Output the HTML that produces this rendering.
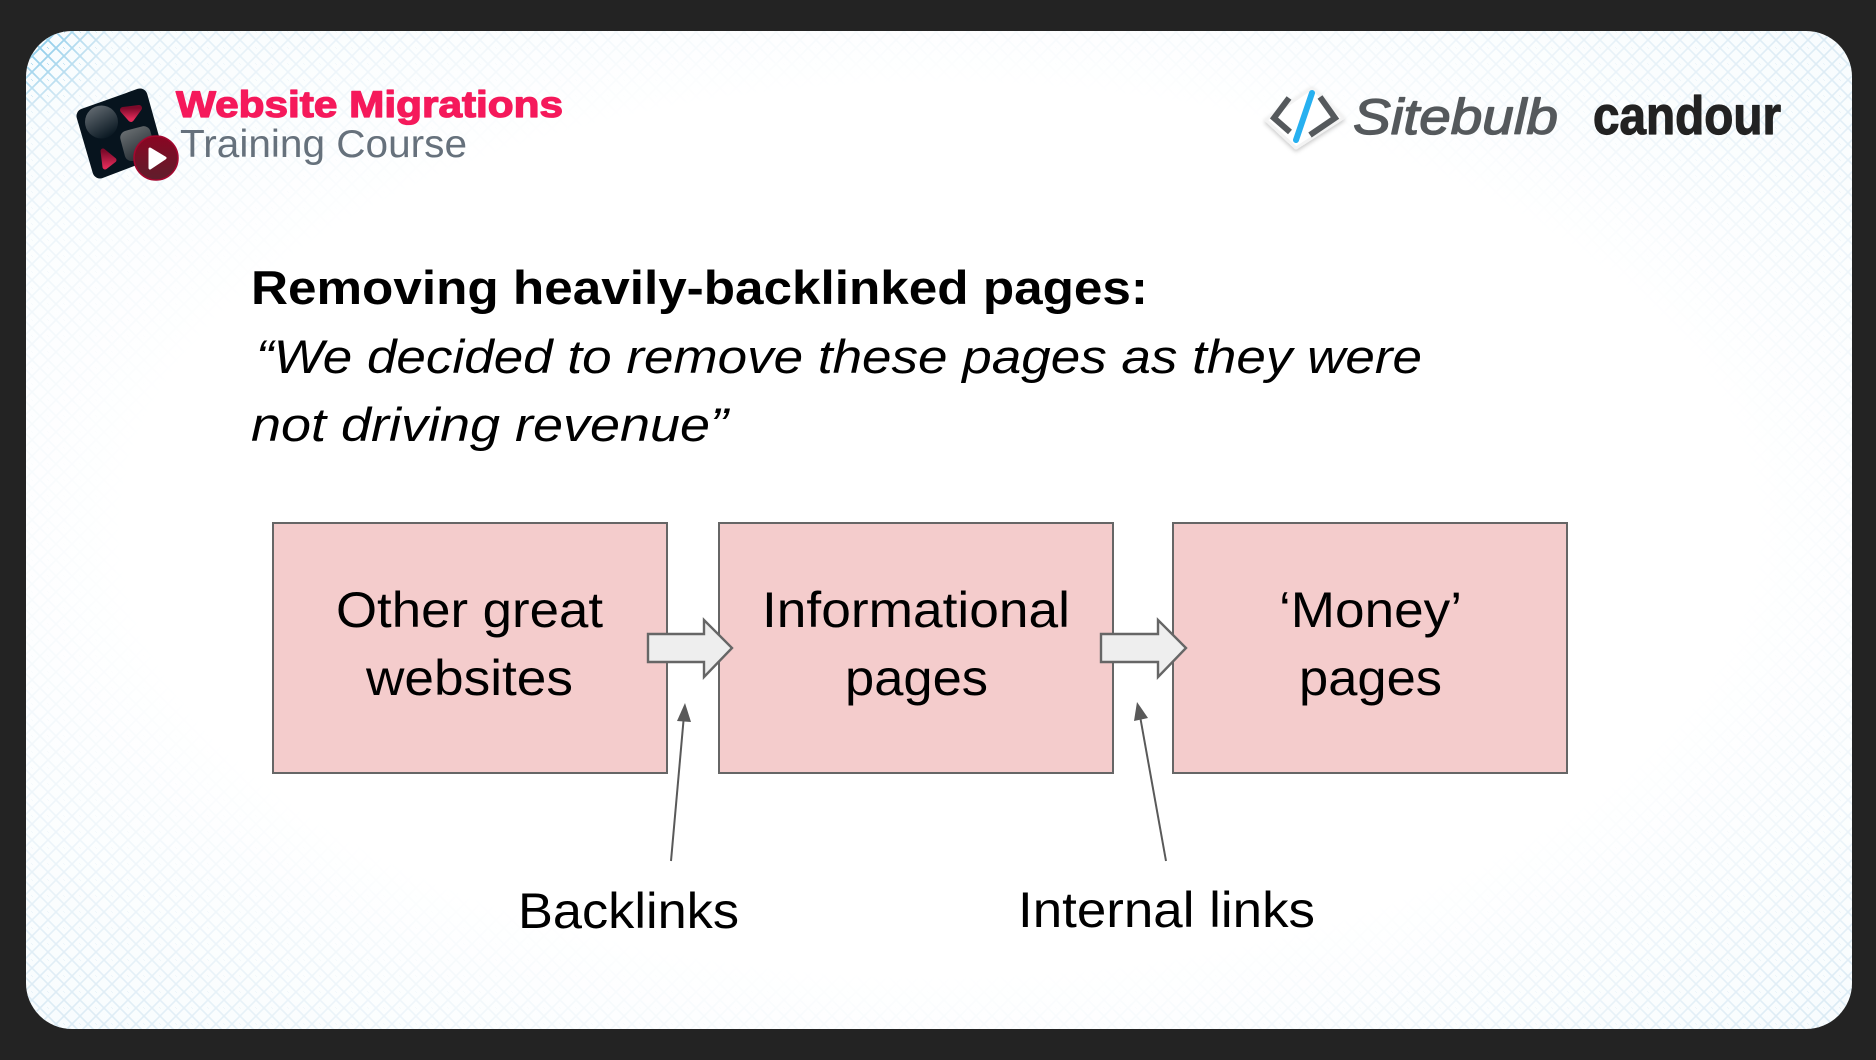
<!DOCTYPE html>
<html lang="en"><head><meta charset="utf-8"><title>Removing heavily-backlinked pages</title>
<style>
html,body{margin:0;padding:0;background:#232323;width:1876px;height:1060px;overflow:hidden}
svg{display:block}
text{font-family:"Liberation Sans",sans-serif}
</style></head>
<body>
<svg xmlns="http://www.w3.org/2000/svg" width="1876" height="1060" viewBox="0 0 1876 1060">
<defs>
<pattern id="hatch" width="16" height="16" patternUnits="userSpaceOnUse">
<path d="M-4 4L4 -4M-4 12L12 -4M4 20L20 4M12 20L20 12" stroke="#d6e8f3" stroke-width="1.6" fill="none"/>
<path d="M-4 4L12 20M4 -4L20 12" stroke="#d6e8f3" stroke-width="1.6" fill="none"/>
</pattern>
<pattern id="hatchBlue" width="16" height="16" patternUnits="userSpaceOnUse">
<path d="M-4 4L4 -4M-4 12L12 -4M4 20L20 4M12 20L20 12" stroke="#8fcdea" stroke-width="1.8" fill="none"/>
<path d="M-4 4L12 20M4 -4L20 12" stroke="#8fcdea" stroke-width="1.8" fill="none"/>
</pattern>
<radialGradient id="veil" cx="0.5" cy="0.5" r="0.72">
<stop offset="0" stop-color="#fff" stop-opacity="1"/>
<stop offset="0.62" stop-color="#fff" stop-opacity="1"/>
<stop offset="0.8" stop-color="#fff" stop-opacity="0.55"/>
<stop offset="1" stop-color="#fff" stop-opacity="0"/>
</radialGradient>
<radialGradient id="cornerFade" gradientUnits="userSpaceOnUse" cx="26" cy="31" r="85">
<stop offset="0.25" stop-color="#fff" stop-opacity="1"/>
<stop offset="1" stop-color="#fff" stop-opacity="0"/>
</radialGradient>
<mask id="cornerMask"><rect x="26" y="31" width="100" height="100" fill="url(#cornerFade)"/></mask>
<linearGradient id="greyA" x1="0" y1="0" x2="0.6" y2="1"><stop offset="0" stop-color="#6d747a"/><stop offset="1" stop-color="#0c1a24"/></linearGradient>
<linearGradient id="greyB" x1="0" y1="0" x2="0.3" y2="1"><stop offset="0" stop-color="#6a6f72"/><stop offset="1" stop-color="#2a3238"/></linearGradient>
<linearGradient id="redA" x1="0" y1="0" x2="0" y2="1"><stop offset="0" stop-color="#7c0a2a"/><stop offset="1" stop-color="#e02a58"/></linearGradient>
<linearGradient id="redB" x1="0" y1="0" x2="0" y2="1"><stop offset="0" stop-color="#8a0522"/><stop offset="1" stop-color="#5f1e2c"/></linearGradient>
<clipPath id="panelClip"><rect x="26" y="31" width="1826" height="998" rx="46" ry="46"/></clipPath>
<filter id="soft" x="-20%" y="-20%" width="140%" height="140%"><feDropShadow dx="0" dy="2" stdDeviation="2" flood-color="#000" flood-opacity=".22"/></filter>
</defs>

<rect width="1876" height="1060" fill="#232323"/>
<g clip-path="url(#panelClip)">
<rect x="26" y="31" width="1826" height="998" fill="#f7fcfe"/>
<rect x="26" y="31" width="1826" height="998" fill="url(#hatch)"/>
<rect x="26" y="31" width="1826" height="998" fill="url(#veil)"/>
<rect x="26" y="31" width="100" height="100" fill="url(#hatchBlue)" mask="url(#cornerMask)"/>
</g>

<!-- Course logo -->
<polygon points="84,116 140,96 155,150 100,171" fill="#07141e" stroke="#07141e" stroke-width="15" stroke-linejoin="round"/>
<circle cx="101.5" cy="122" r="16.5" fill="url(#greyA)"/>
<polygon points="123,110 139,108 131,119" fill="url(#redA)" stroke="url(#redA)" stroke-width="6" stroke-linejoin="round"/>
<rect x="122" y="128" width="31" height="31" rx="7" transform="rotate(-15 138 143)" fill="url(#greyB)"/>
<polygon points="103,151 114,160 105,167" fill="url(#redA)" stroke="url(#redA)" stroke-width="5" stroke-linejoin="round"/>
<circle cx="156" cy="158" r="22" fill="url(#redB)" stroke="#a3082f" stroke-width="1.5"/>
<polygon points="150,149 165,158 150,168" fill="#fff" stroke="#fff" stroke-width="3" stroke-linejoin="round"/>
<text x="176" y="117" font-size="37" font-weight="700" fill="#f5195b" stroke="#f5195b" stroke-width="1.3" stroke-linejoin="round" textLength="387" lengthAdjust="spacingAndGlyphs">Website Migrations</text>
<text x="180" y="157" font-size="39" fill="#66717c" textLength="287" lengthAdjust="spacingAndGlyphs">Training Course</text>

<!-- Sitebulb logo -->
<polygon points="1312,88 1343,118 1296,148 1266,120" fill="#fff" stroke="#f3f3f3" stroke-width="3" stroke-linejoin="round" filter="url(#soft)"/>
<path d="M1289 98L1274 118L1290 132" fill="none" stroke="#55595c" stroke-width="6"/>
<path d="M1320 97L1335 118L1310 135" fill="none" stroke="#55595c" stroke-width="6"/>
<path d="M1312 93L1296 140" fill="none" stroke="#27b0f0" stroke-width="6" stroke-linecap="round"/>
<text x="1353" y="134" font-size="50" font-style="italic" fill="#55595c" stroke="#55595c" stroke-width="1.3" stroke-linejoin="round" textLength="205" lengthAdjust="spacingAndGlyphs">Sitebulb</text>
<text x="1593" y="134" font-size="54" font-weight="700" fill="#222" stroke="#222" stroke-width="1.2" stroke-linejoin="round" textLength="188" lengthAdjust="spacingAndGlyphs">candour</text>

<!-- Heading -->
<text x="251" y="304" font-size="47" font-weight="700" fill="#000" textLength="897" lengthAdjust="spacingAndGlyphs">Removing heavily-backlinked pages:</text>
<text x="256" y="373" font-size="47" font-style="italic" fill="#000" textLength="1166" lengthAdjust="spacingAndGlyphs">“We decided to remove these pages as they were</text>
<text x="251" y="441" font-size="47" font-style="italic" fill="#000" textLength="477" lengthAdjust="spacingAndGlyphs">not driving revenue”</text>

<!-- Boxes -->
<rect x="273" y="523" width="394" height="250" fill="#f4cccc" stroke="#666" stroke-width="2"/>
<rect x="719" y="523" width="394" height="250" fill="#f4cccc" stroke="#666" stroke-width="2"/>
<rect x="1173" y="523" width="394" height="250" fill="#f4cccc" stroke="#666" stroke-width="2"/>

<text x="336" y="627" font-size="50" fill="#000" textLength="267" lengthAdjust="spacingAndGlyphs">Other great</text>
<text x="366" y="695" font-size="50" fill="#000" textLength="207" lengthAdjust="spacingAndGlyphs">websites</text>
<text x="762" y="627" font-size="50" fill="#000" textLength="308" lengthAdjust="spacingAndGlyphs">Informational</text>
<text x="845" y="695" font-size="50" fill="#000" textLength="143" lengthAdjust="spacingAndGlyphs">pages</text>
<text x="1279" y="627" font-size="50" fill="#000" textLength="183" lengthAdjust="spacingAndGlyphs">‘Money’</text>
<text x="1299" y="695" font-size="50" fill="#000" textLength="143" lengthAdjust="spacingAndGlyphs">pages</text>

<!-- Block arrows -->
<polygon points="648,634 704,634 704,620 732,648 704,677 704,662 648,662" fill="#eeeeee" stroke="#666" stroke-width="2.4"/>
<polygon points="1101,634 1158,634 1158,620 1186,648 1158,677 1158,662 1101,662" fill="#eeeeee" stroke="#666" stroke-width="2.4"/>

<!-- Thin arrows -->
<line x1="671" y1="861" x2="684" y2="715" stroke="#595959" stroke-width="2"/>
<polygon points="685,703 691,722 677,721" fill="#595959"/>
<line x1="1166" y1="861" x2="1140" y2="716" stroke="#595959" stroke-width="2"/>
<polygon points="1137,702 1148,718 1134,721" fill="#595959"/>

<!-- Labels -->
<text x="518" y="928" font-size="50" fill="#000" textLength="221" lengthAdjust="spacingAndGlyphs">Backlinks</text>
<text x="1018" y="927" font-size="50" fill="#000" textLength="297" lengthAdjust="spacingAndGlyphs">Internal links</text>
</svg>
</body></html>
